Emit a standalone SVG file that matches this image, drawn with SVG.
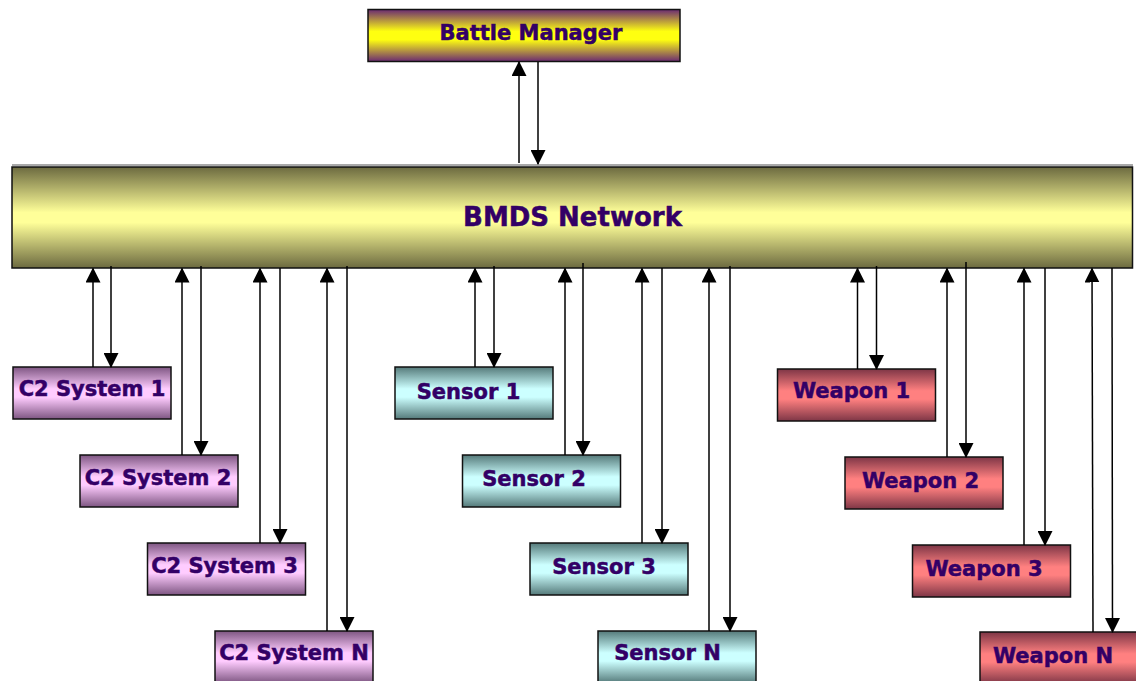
<svg xmlns="http://www.w3.org/2000/svg" width="1136" height="681" viewBox="0 0 1136 681">
<defs>
<linearGradient id="gBM" x1="0" y1="0" x2="0" y2="1">
<stop offset="0" stop-color="#6a2a72"/><stop offset="0.42" stop-color="#ffff10"/><stop offset="0.58" stop-color="#ffff10"/><stop offset="1" stop-color="#6a2a72"/>
</linearGradient>
<linearGradient id="gNet" x1="0" y1="0" x2="0" y2="1">
<stop offset="0" stop-color="#6c6a40"/><stop offset="0.45" stop-color="#ffff99"/><stop offset="0.55" stop-color="#ffff99"/><stop offset="1" stop-color="#6c6a40"/>
</linearGradient>
<linearGradient id="gC2" x1="0" y1="0" x2="0" y2="1">
<stop offset="0" stop-color="#7e5682"/><stop offset="0.42" stop-color="#ffccff"/><stop offset="0.58" stop-color="#ffccff"/><stop offset="1" stop-color="#7e5682"/>
</linearGradient>
<linearGradient id="gS" x1="0" y1="0" x2="0" y2="1">
<stop offset="0" stop-color="#557a7a"/><stop offset="0.42" stop-color="#ccffff"/><stop offset="0.58" stop-color="#ccffff"/><stop offset="1" stop-color="#557a7a"/>
</linearGradient>
<linearGradient id="gW" x1="0" y1="0" x2="0" y2="1">
<stop offset="0" stop-color="#7e3646"/><stop offset="0.42" stop-color="#ff8080"/><stop offset="0.58" stop-color="#ff8080"/><stop offset="1" stop-color="#7e3646"/>
</linearGradient>
<marker id="ah" viewBox="0 0 15 15" refX="14" refY="7.5" markerWidth="15" markerHeight="15" markerUnits="userSpaceOnUse" orient="auto">
<path d="M0,0 L15,7.5 L0,15 z" fill="#000"/>
</marker>
<style>
.box{stroke:#111;stroke-width:1.5}
.lbl{font-family:"DejaVu Sans","Liberation Sans",sans-serif;font-weight:bold;font-size:21px;fill:#330066;stroke:#330066;stroke-width:0.5;text-anchor:middle}
.big{font-size:26px}
.c{stroke:#000;stroke-width:1.5;fill:none;marker-end:url(#ah)}
</style>
</defs>
<g id="battle-manager">
<rect class="box" x="368" y="9.5" width="312" height="52" fill="url(#gBM)"/>
<text class="lbl" x="531" y="39.5">Battle Manager</text>
</g>
<g id="bmds-network">
<line x1="12" y1="165" x2="1133" y2="165" stroke="#555" stroke-width="1.2"/>
<rect class="box" x="12" y="167" width="1120.5" height="101" fill="url(#gNet)"/>
<text class="lbl big" x="572.5" y="225.7">BMDS Network</text>
</g>
<g id="c2-system-1"><rect class="box" x="13" y="367" width="158" height="52" fill="url(#gC2)"/><text class="lbl" x="92" y="396">C2 System 1</text></g>
<g id="c2-system-2"><rect class="box" x="80" y="455" width="158" height="52" fill="url(#gC2)"/><text class="lbl" x="158" y="485">C2 System 2</text></g>
<g id="c2-system-3"><rect class="box" x="147.5" y="543" width="158" height="52" fill="url(#gC2)"/><text class="lbl" x="224.5" y="573">C2 System 3</text></g>
<g id="c2-system-n"><rect class="box" x="215" y="631" width="158" height="52" fill="url(#gC2)"/><text class="lbl" x="294" y="660">C2 System N</text></g>
<g id="sensor-1"><rect class="box" x="395" y="367" width="158" height="52" fill="url(#gS)"/><text class="lbl" x="468.5" y="399">Sensor 1</text></g>
<g id="sensor-2"><rect class="box" x="462.5" y="455" width="158" height="52" fill="url(#gS)"/><text class="lbl" x="534" y="486">Sensor 2</text></g>
<g id="sensor-3"><rect class="box" x="530" y="543" width="158" height="52" fill="url(#gS)"/><text class="lbl" x="604" y="574">Sensor 3</text></g>
<g id="sensor-n"><rect class="box" x="598" y="631" width="158" height="52" fill="url(#gS)"/><text class="lbl" x="667.5" y="660">Sensor N</text></g>
<g id="weapon-1"><rect class="box" x="777.5" y="369" width="158" height="52" fill="url(#gW)"/><text class="lbl" x="851.5" y="398">Weapon 1</text></g>
<g id="weapon-2"><rect class="box" x="845" y="457" width="158" height="52" fill="url(#gW)"/><text class="lbl" x="920.5" y="488">Weapon 2</text></g>
<g id="weapon-3"><rect class="box" x="912.5" y="545" width="158" height="52" fill="url(#gW)"/><text class="lbl" x="984" y="575.5">Weapon 3</text></g>
<g id="weapon-n"><rect class="box" x="980" y="632" width="158" height="52" fill="url(#gW)"/><text class="lbl" x="1053" y="663">Weapon N</text></g>
<g id="connectors">
<line class="c" x1="519" y1="163" x2="519" y2="62"/>
<line class="c" x1="538" y1="62" x2="538" y2="164"/>
<line class="c" x1="93" y1="367" x2="93" y2="268.5"/>
<line class="c" x1="111" y1="266" x2="111" y2="367"/>
<line class="c" x1="182" y1="455" x2="182" y2="268.5"/>
<line class="c" x1="201" y1="266" x2="201" y2="455"/>
<line class="c" x1="260" y1="543" x2="260" y2="268.5"/>
<line class="c" x1="280" y1="268" x2="280" y2="543"/>
<line class="c" x1="327" y1="631" x2="327" y2="268.5"/>
<line class="c" x1="347" y1="266" x2="347" y2="631"/>
<line class="c" x1="475" y1="367" x2="475" y2="268.5"/>
<line class="c" x1="494" y1="266" x2="494" y2="367"/>
<line class="c" x1="565" y1="455" x2="565" y2="268.5"/>
<line class="c" x1="583" y1="263" x2="583" y2="455"/>
<line class="c" x1="642" y1="543" x2="642" y2="268.5"/>
<line class="c" x1="662" y1="268" x2="662" y2="543"/>
<line class="c" x1="709" y1="631" x2="709" y2="268.5"/>
<line class="c" x1="730" y1="266" x2="730" y2="631"/>
<line class="c" x1="857.5" y1="369" x2="857.5" y2="268.5"/>
<line class="c" x1="876.5" y1="266" x2="876.5" y2="369"/>
<line class="c" x1="947" y1="457" x2="947" y2="268.5"/>
<line class="c" x1="966" y1="262" x2="966" y2="457"/>
<line class="c" x1="1024" y1="545" x2="1024" y2="268.5"/>
<line class="c" x1="1045" y1="268" x2="1045" y2="545"/>
<line class="c" x1="1093" y1="632" x2="1092" y2="268.5"/>
<line class="c" x1="1112" y1="268" x2="1112.5" y2="632"/>
</g>
</svg>
